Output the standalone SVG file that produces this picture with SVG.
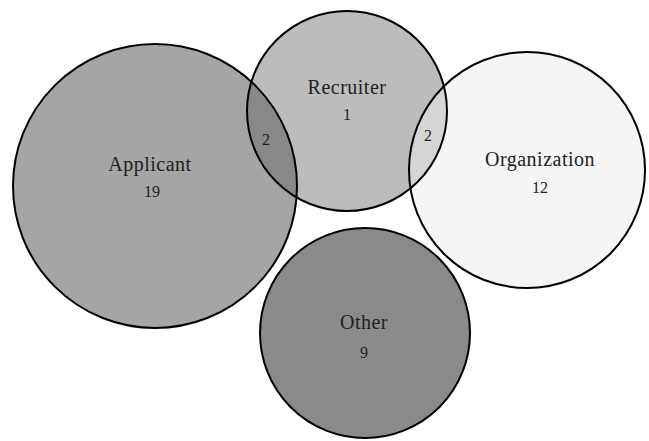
<svg xmlns="http://www.w3.org/2000/svg" width="649" height="441" viewBox="0 0 649 441">
<style>
.outline{fill:none;stroke:#000;stroke-width:2}
.lbl{font-family:"Liberation Serif","DejaVu Serif",serif;font-size:20px;letter-spacing:0.5px;fill:#222;text-anchor:middle}
.num{font-family:"Liberation Serif","DejaVu Serif",serif;font-size:16px;fill:#222;text-anchor:middle}
</style>
<rect width="649" height="441" fill="#fff"/>
<g id="applicant">
<circle cx="155" cy="186" r="142" fill="#a5a5a5"/>
</g>
<g id="recruiter">
<circle cx="347" cy="111" r="100" fill="#606060" fill-opacity="0.42"/>
</g>
<g id="organization">
<circle cx="527" cy="170" r="118" fill="#ececec" fill-opacity="0.52"/>
</g>
<g id="other">
<circle cx="365" cy="333" r="105" fill="#8a8a8a"/>
</g>
<g id="outlines">
<circle class="outline" cx="155" cy="186" r="142"/>
<circle class="outline" cx="347" cy="111" r="100"/>
<circle class="outline" cx="527" cy="170" r="118"/>
<circle class="outline" cx="365" cy="333" r="105"/>
</g>
<g id="labels">
<text class="lbl" x="150" y="171">Applicant</text>
<text class="num" x="152" y="197">19</text>
<text class="lbl" x="347" y="94">Recruiter</text>
<text class="num" x="347" y="120">1</text>
<text class="lbl" x="540" y="166">Organization</text>
<text class="num" x="540" y="193">12</text>
<text class="lbl" x="364" y="329">Other</text>
<text class="num" x="364" y="358">9</text>
<text class="num" x="266" y="145">2</text>
<text class="num" x="428" y="141">2</text>
</g>
</svg>
